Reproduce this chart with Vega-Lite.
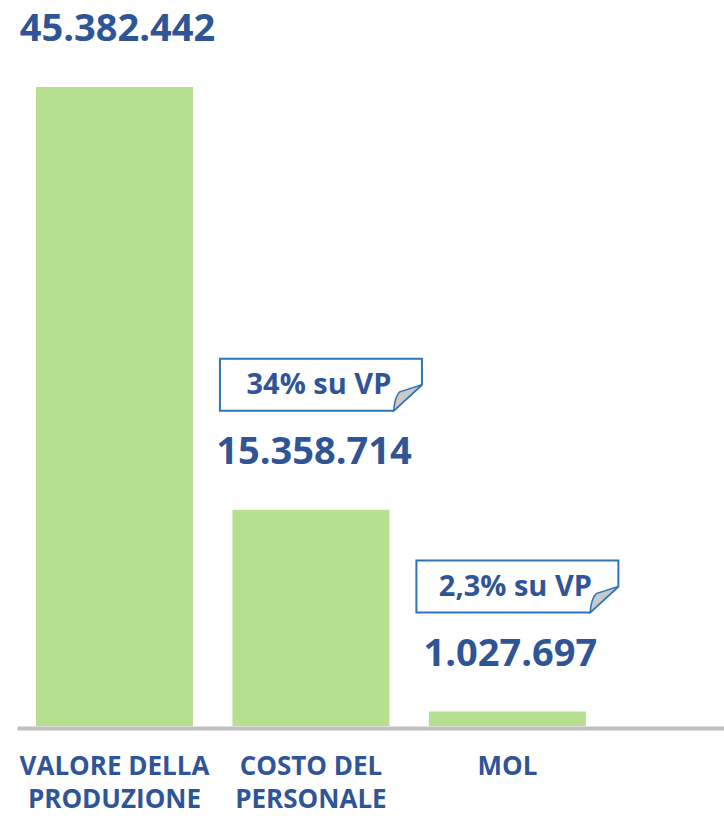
{
  "$schema": "https://vega.github.io/schema/vega-lite/v6.json",
  "autosize": {"type": "none"},
  "padding": {"left": 17, "top": 0, "right": 0, "bottom": 90},
  "width": 707,
  "height": 726,
  "background": "white",
  "config": {"view": {"stroke": null}},
  "data": {
    "values": [
      {"cat": "VALORE DELLA|PRODUZIONE", "value": 45382442, "label": "45.382.442", "pct": null},
      {"cat": "COSTO DEL|PERSONALE", "value": 15358714, "label": "15.358.714", "pct": "34% su VP"},
      {"cat": "MOL", "value": 1027697, "label": "1.027.697", "pct": "2,3% su VP"}
    ]
  },
  "encoding": {
    "x": {
      "field": "cat", "type": "nominal", "sort": null,
      "scale": {"paddingInner": 0.201, "paddingOuter": 0.4, "align": 0.121},
      "axis": {
        "title": null, "ticks": false, "offset": 2,
        "domainColor": "#bfbfbf", "domainWidth": 4,
        "labelExpr": "split(datum.label, '|')",
        "labelAngle": 0, "labelBaseline": "top", "labelPadding": 25,
        "labelLineHeight": 33,
        "labelFont": "Open Sans", "labelFontWeight": "bold", "labelFontSize": 26,
        "labelColor": "#2f5597", "labelLimit": 300
      }
    },
    "y": {
      "field": "value", "type": "quantitative",
      "scale": {"domain": [0, 51561000], "nice": false, "zero": true},
      "axis": null
    }
  },
  "layer": [
    {"mark": {"type": "bar", "color": "#b6df90"}},
    {
      "mark": {"type": "text", "dy": -46, "dx": 3, "baseline": "alphabetic", "align": "center",
               "font": "Open Sans", "fontWeight": "bold", "fontSize": 38, "color": "#2f5597"},
      "encoding": {"text": {"field": "label"}}
    },
    {
      "transform": [{"filter": "datum.pct != null"}],
      "mark": {"type": "point", "shape": "M-1,-0.257L1,-0.257L1,0L0.72,0.257L-1,0.257Z",
               "size": 40804, "filled": true, "fill": "white", "opacity": 1,
               "stroke": "#2e75b6", "strokeWidth": 2, "xOffset": 10, "yOffset": -125}
    },
    {
      "transform": [{"filter": "datum.pct != null"}],
      "mark": {"type": "point", "shape": "M1,0L0.72,0.257Q0.73,0.12 0.78,0.07Z",
               "size": 40804, "filled": true, "fill": "#c9c9c9", "opacity": 1,
               "stroke": "#2e75b6", "strokeWidth": 1.5, "xOffset": 10, "yOffset": -125}
    },
    {
      "transform": [{"filter": "datum.pct != null"}],
      "mark": {"type": "text", "dy": -116, "dx": 8, "baseline": "alphabetic", "align": "center",
               "font": "Open Sans", "fontWeight": "bold", "fontSize": 29, "color": "#2f5597"},
      "encoding": {"text": {"field": "pct"}}
    }
  ]
}
